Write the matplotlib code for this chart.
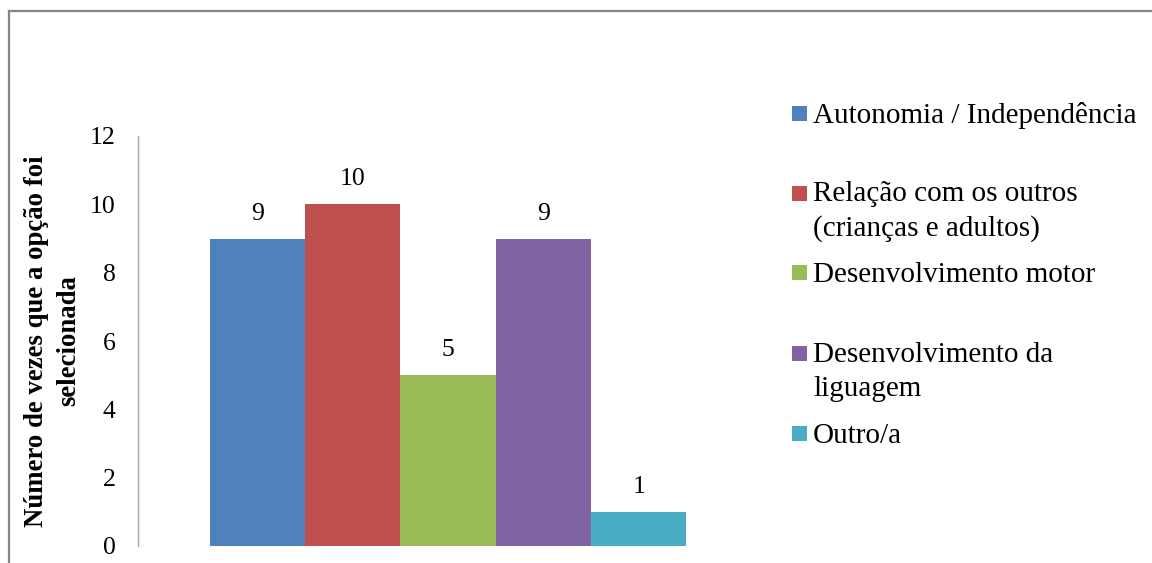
import matplotlib
matplotlib.use("Agg")
import matplotlib.pyplot as plt
from matplotlib.lines import Line2D
from matplotlib.patches import Rectangle

# data
categorias = ['Autonomia / Independência',
              'Relação com os outros\n(crianças e adultos)',
              'Desenvolvimento motor',
              'Desenvolvimento da\nliguagem',
              'Outro/a']
valores = [9, 10, 5, 9, 1]
cores = ['#4F81BD', '#C0504D', '#9BBB59', '#8064A2', '#4BACC6']
y_ticks = [0, 2, 4, 6, 8, 10, 12]
y_titulo = 'Número de vezes que a opção foi\nselecionada'

plt.rcParams['font.family'] = ['Liberation Serif', 'DejaVu Serif']

W, H = 1152, 563
fig = plt.figure(figsize=(W / 100, H / 100), dpi=100)

# axes position in pixels (left, top, right, bottom)
L, T, R, B = 138, 136, 758, 546
ax = fig.add_axes([L / W, 1 - B / H, (R - L) / W, (B - T) / H])

x = list(range(len(valores)))
ax.bar(x, valores, width=1.0, color=cores, zorder=2)
for xi, v in zip(x, valores):
    ax.annotate(str(v), (xi, v), xytext=(0, 18), textcoords='offset points',
                ha='center', va='center', fontsize=18.5)

ax.set_xlim(-1.25, 5.25)
ax.set_ylim(0, 12)
ax.set_yticks(y_ticks)
ax.tick_params(axis='y', length=0, pad=16, labelsize=18.5)
ax.set_xticks([])
for s in ['top', 'right', 'bottom']:
    ax.spines[s].set_visible(False)
ax.spines['left'].set_color('#a6a6a6')
ax.spines['left'].set_linewidth(1.0)

# y title placed in figure pixels
fig.text(52.5 / W, 1 - 341 / H, y_titulo, rotation=90, ha='center',
         va='center', multialignment='center', fontsize=19.3,
         fontweight='bold', linespacing=1.37)

# outer chart frame (only top and left edges are inside the picture)
cor_borda = '#868686'
fig.add_artist(Line2D([9 / W, 1], [1 - 11 / H, 1 - 11 / H], color=cor_borda,
                      lw=1.6, transform=fig.transFigure))
fig.add_artist(Line2D([9 / W, 9 / W], [1 - 11 / H, 0], color=cor_borda,
                      lw=1.6, transform=fig.transFigure))

# legend drawn by hand to follow the uneven Excel spacing
baselines = [123, 203, 282, 363, 443]
passo = 33
for nome, cor, yb in zip(categorias, cores, baselines):
    fig.add_artist(Rectangle((792 / W, 1 - (yb - 2) / H), 15 / W, 15 / H,
                             facecolor=cor, edgecolor='none',
                             transform=fig.transFigure))
    # matplotlib puts the baseline of the last line at y
    ult = yb + passo * nome.count('\n')
    fig.text(813 / W, 1 - ult / H, nome, ha='left', va='baseline',
             fontsize=21, linespacing=1.4)

fig.savefig('out.png', dpi=100, facecolor='white')
